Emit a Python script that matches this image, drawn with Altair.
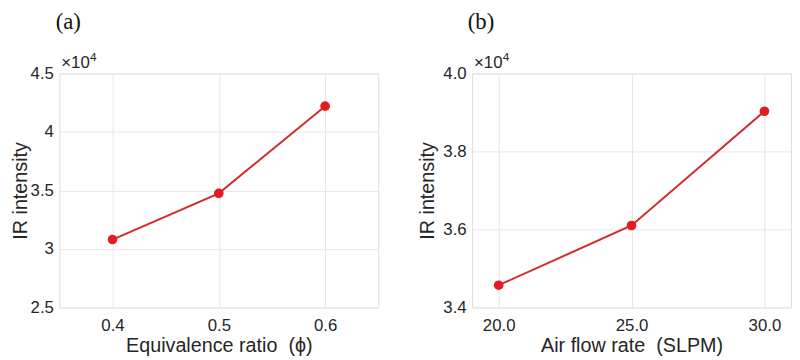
import altair as alt
import pandas as pd

# Panel (a)
phi = [0.4, 0.5, 0.6]
ir_a = [30800, 34750, 42200]
# Panel (b)
flow = [20.0, 25.0, 30.0]
ir_b = [34570, 36100, 39030]

xticks_a = [0.4, 0.5, 0.6]
yticks_a = [25000, 30000, 35000, 40000, 45000]
xticks_b = [20.0, 25.0, 30.0]
yticks_b = [34000, 36000, 38000, 40000]

FONT = "Liberation Sans"
LINE_C = "#d42a2c"
PT_C = "#e31b23"
TXT_C = "#262626"


def panel(xs, ys, xdom, xticks, xfmt, xtitle, ydom, yticks, ylabel_expr, ytitle_pad, tag):
    df = pd.DataFrame({"x": xs, "y": ys})
    x = alt.X("x:Q", scale=alt.Scale(domain=xdom, nice=False, zero=False),
              axis=alt.Axis(values=xticks, format=xfmt, title=xtitle, ticks=False, domain=False,
                            labelPadding=10, titlePadding=3, labelFontSize=17, titleFontSize=20,
                            titleFontWeight=400, labelFont=FONT, titleFont=FONT,
                            labelColor=TXT_C, titleColor=TXT_C,
                            gridColor="#e6e6e6", labelFlush=False))
    y = alt.Y("y:Q", scale=alt.Scale(domain=ydom, nice=False, zero=False),
              axis=alt.Axis(values=yticks, labelExpr=ylabel_expr, title="IR intensity", ticks=False,
                            domain=False, labelPadding=6, titlePadding=ytitle_pad, labelFontSize=17,
                            titleFontSize=20, titleFontWeight=400, labelFont=FONT, titleFont=FONT,
                            labelColor=TXT_C, titleColor=TXT_C,
                            gridColor="#e6e6e6", labelFlush=False))
    base = alt.Chart(df)
    line = base.mark_line(color=LINE_C, strokeWidth=2).encode(x=x, y=y)
    pts = base.mark_point(filled=True, color=PT_C, size=95, opacity=1).encode(x=x, y=y)
    tag_t = alt.Chart(pd.DataFrame({"t": [tag]})).mark_text(
        font="Liberation Serif", fontSize=23, align="center", baseline="alphabetic", color="#111"
    ).encode(x=alt.value(9), y=alt.value(-45), text="t:N")
    mul = alt.Chart(pd.DataFrame({"t": ["\u00d710"]})).mark_text(
        font=FONT, fontSize=17, align="left", baseline="alphabetic", color=TXT_C
    ).encode(x=alt.value(2), y=alt.value(-5), text="t:N")
    exp = alt.Chart(pd.DataFrame({"t": ["4"]})).mark_text(
        font=FONT, fontSize=12, align="left", baseline="alphabetic", color=TXT_C
    ).encode(x=alt.value(31), y=alt.value(-13), text="t:N")
    return alt.layer(line, pts, tag_t, mul, exp).properties(width=323, height=237)


pa = panel(phi, ir_a, [0.35, 0.65], xticks_a, ".1f", "Equivalence ratio \u00a0(\u03d5)",
           [25000, 45000], yticks_a, "format(datum.value/10000, '~g')", 0, "(a)")
pb = panel(flow, ir_b, [19, 31], xticks_b, ".1f", "Air flow rate \u00a0(SLPM)",
           [34000, 40000], yticks_b, "format(datum.value/10000, '.1f')", 5, "(b)")

chart = alt.hconcat(pa, pb, spacing=38).properties(
    padding={"top": 0, "left": 1, "right": 0, "bottom": 0}
).configure_view(stroke="#8a8a8a", strokeWidth=1.3).configure(background="white")

chart.save("out.html", embed_options={"renderer": "svg", "actions": False})
